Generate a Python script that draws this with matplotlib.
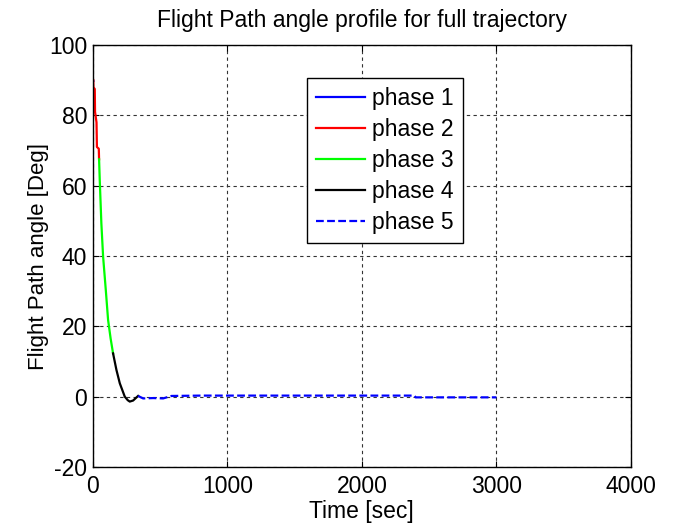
import matplotlib
matplotlib.use("Agg")
import matplotlib.pyplot as plt

plt.rcParams['font.family'] = ['Liberation Sans', 'DejaVu Sans']
plt.rcParams['axes.unicode_minus'] = False

# Flight path angle per phase: time [sec], angle [deg]
t_phase1 = [0, 2, 4]
g_phase1 = [90.0, 90.0, 89.8]

t_phase2 = [4, 5, 15, 17, 28, 31, 45, 47]
g_phase2 = [90.0, 88.0, 87.5, 81.0, 78.0, 71.0, 70.5, 67.5]

t_phase3 = [47, 52, 64, 77, 97, 114, 133, 151]
g_phase3 = [67.5, 61.6, 49.3, 39.8, 30.3, 21.8, 16.5, 12.3]

t_phase4 = [151, 176, 201, 238, 260, 275, 300, 337]
g_phase4 = [12.3, 7.6, 3.8, 0.0, -1.0, -1.4, -1.1, 0.2]

t_phase5 = [337, 374, 450, 523, 585, 800, 1200, 1600, 2000, 2390, 2400, 2700, 3000]
g_phase5 = [0.2, -0.5, -0.4, -0.5, 0.2, 0.3, 0.3, 0.3, 0.3, 0.3, -0.2, -0.2, -0.2]

FS = 16.5

fig = plt.figure(figsize=(6.77, 5.26), dpi=100)
ax = fig.add_axes([0.137, 0.1122, 0.795, 0.8022])

lw = 1.6
ax.plot(t_phase1, g_phase1, color='#0000ff', lw=lw, label='phase 1')
ax.plot(t_phase2, g_phase2, color='#ff0000', lw=lw, label='phase 2')
ax.plot(t_phase3, g_phase3, color='#00ff00', lw=lw, label='phase 3')
ax.plot(t_phase4, g_phase4, color='#000000', lw=lw, label='phase 4')
ax.plot(t_phase5, g_phase5, color='#0000ff', lw=lw, ls=(0, (3.5, 1.5)), label='phase 5')

ax.set_xlim(0, 4000)
ax.set_ylim(-20, 100)
ax.set_xticks([0, 1000, 2000, 3000, 4000])
ax.set_yticks([-20, 0, 20, 40, 60, 80, 100])

ax.grid(True, color='#333333', ls=(0, (3, 3)), lw=0.8)
ax.tick_params(direction='in', top=True, right=True, labelsize=FS, length=4, width=0.8)
ax.tick_params(axis='x', pad=6)
ax.tick_params(axis='y', pad=4)
for s in ax.spines.values():
    s.set_color('black')
    s.set_linewidth(1.0)

ax.set_title('Flight Path angle profile for full trajectory', fontsize=FS, pad=13)
ax.set_xlabel('Time [sec]', fontsize=FS, labelpad=1)
ax.set_ylabel('Flight Path angle [Deg]', fontsize=16, labelpad=0)

leg = ax.legend(loc='upper left', bbox_to_anchor=(0.398, 0.922), fontsize=FS,
                frameon=True, fancybox=False, shadow=False, framealpha=1,
                edgecolor='black', handlelength=2.15, handletextpad=0.3,
                labelspacing=0.35, borderpad=0.4, borderaxespad=0)
leg.get_frame().set_linewidth(1.0)

fig.savefig('out.png', dpi=100)
